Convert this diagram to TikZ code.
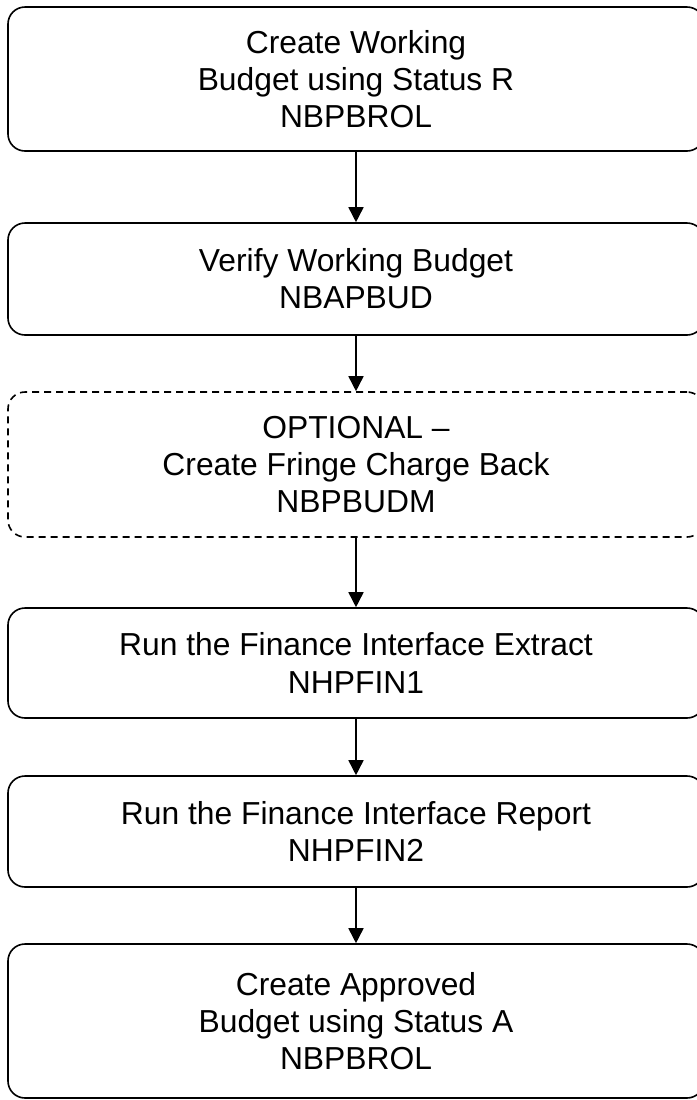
\documentclass[tikz,border=0pt]{standalone}
\usepackage{fontspec}
\setmainfont{Liberation Sans}
\usetikzlibrary{arrows.meta}
\tikzset{
  stepbox/.style={draw, line width=0.8pt, rounded corners=8.5pt, minimum width=348pt,
    align=center, inner sep=0pt, font=\fontsize{15.9}{18.6}\selectfont},
  optbox/.style={stepbox, dash pattern=on 3.5pt off 2.5pt},
  flow/.style={line width=0.8pt, -{Triangle[length=7.5pt,width=7.5pt]}}
}
\begin{document}
\begin{tikzpicture}[x=0.5pt,y=-0.5pt]
\useasboundingbox (0,0) rectangle (697,1100);

\node[stepbox, minimum height=72pt] (rolR) at (356,79) {Create Working\\Budget using Status R\\NBPBROL};
\node[stepbox, minimum height=56pt] (verify) at (356,279) {Verify Working Budget\\NBAPBUD};
\node[optbox, minimum height=72.5pt] (fringe) at (356,464.5) {OPTIONAL --\\Create Fringe Charge Back\\NBPBUDM};
\node[stepbox, minimum height=55pt] (extract) at (356,663) {Run the Finance Interface Extract\\NHPFIN1};
\node[stepbox, minimum height=55.5pt] (report) at (356,831.5) {Run the Finance Interface Report\\NHPFIN2};
\node[stepbox, minimum height=77pt] (rolA) at (356,1021) {Create Approved\\Budget using Status A\\NBPBROL};

\draw[flow] (rolR) -- (verify);
\draw[flow] (verify) -- (fringe);
\draw[flow] (fringe) -- (extract);
\draw[flow] (extract) -- (report);
\draw[flow] (report) -- (rolA);
\end{tikzpicture}
\end{document}
